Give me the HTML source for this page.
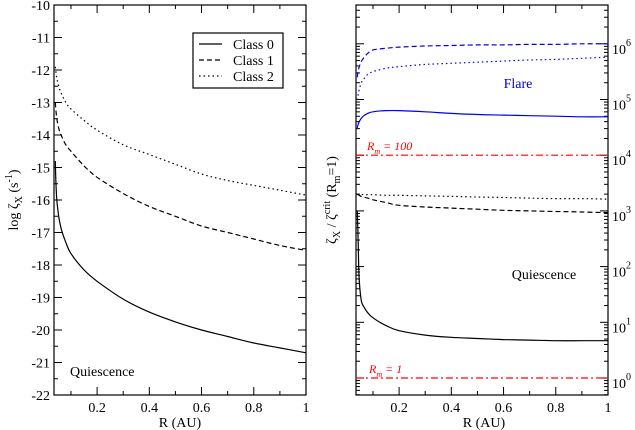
<!DOCTYPE html>
<html><head><meta charset="utf-8"><style>
body{margin:0;background:#fff}
svg{display:block;font-family:"Liberation Serif",serif}
</style></head><body>
<svg id="c" width="635" height="430"></svg>
<script>
const rVals=[0.04,0.043,0.047,0.055,0.065,0.08,0.1,0.15,0.2,0.3,0.4,0.5,0.6,0.7,0.8,0.9,1.0];
const c0Left=[-14.8,-15.6,-16.1,-16.6,-16.95,-17.3,-17.65,-18.15,-18.5,-19.05,-19.45,-19.75,-20.0,-20.2,-20.4,-20.55,-20.7];
const c1Left=[-13.0,-13.3,-13.55,-13.85,-14.05,-14.3,-14.5,-14.95,-15.3,-15.8,-16.2,-16.5,-16.8,-17.0,-17.2,-17.4,-17.55];
const c2Left=[-11.9,-12.1,-12.3,-12.55,-12.75,-13.0,-13.2,-13.55,-13.85,-14.3,-14.6,-14.9,-15.2,-15.4,-15.55,-15.7,-15.85];
const flareC0=[4.49,4.55,4.6,4.66,4.71,4.75,4.78,4.8,4.8,4.78,4.75,4.73,4.72,4.71,4.7,4.69,4.69];
const flareC1=[5.4,5.5,5.58,5.68,5.75,5.83,5.89,5.92,5.94,5.96,5.97,5.98,5.98,5.99,5.99,6.0,6.0];
const flareC2=[4.99,5.08,5.17,5.3,5.37,5.45,5.5,5.56,5.59,5.63,5.65,5.67,5.69,5.71,5.72,5.74,5.76];
const quiC0=[3.0,2.5,1.8,1.4,1.28,1.17,1.08,0.94,0.85,0.77,0.73,0.71,0.69,0.68,0.67,0.67,0.67];
const quiC1=[3.3,3.29,3.28,3.26,3.25,3.23,3.2,3.15,3.1,3.07,3.05,3.03,3.01,3.0,2.99,2.98,2.97];
const quiC2=[3.3,3.3,3.3,3.3,3.29,3.29,3.29,3.28,3.28,3.27,3.26,3.25,3.24,3.23,3.22,3.22,3.21];
const rmLevels=[4,0];
const xTicks=[0.2,0.4,0.6,0.8,1];
const leftYTicks=[-10,-11,-12,-13,-14,-15,-16,-17,-18,-19,-20,-21,-22];
const rightYTicks=[0,1,2,3,4,5,6];

const NS="http://www.w3.org/2000/svg";
const svg=document.getElementById('c');
function el(t,a,p){const e=document.createElementNS(NS,t);for(const k in a)e.setAttribute(k,a[k]);(p||svg).appendChild(e);return e;}
const XMIN=0.035,XMAX=1;
function mkX(L,R){return v=>L+(v-XMIN)/(XMAX-XMIN)*(R-L);}
const xL=mkX(54,306), xR=mkX(356,608);
const yL=v=>5+(-10-v)*32.5;
const yR=v=>378-v*55.7;
function line(xf,yf,xs,ys,style,color,name){
  const P=xs.map((x,i)=>[xf(x),yf(ys[i])]);
  let d='M'+P[0][0].toFixed(1)+','+P[0][1].toFixed(1);
  for(let i=0;i<P.length-1;i++){
    const p0=P[Math.max(0,i-1)],p1=P[i],p2=P[i+1],p3=P[Math.min(P.length-1,i+2)];
    const c1=[p1[0]+(p2[0]-p0[0])/6,p1[1]+(p2[1]-p0[1])/6];
    const c2=[p2[0]-(p3[0]-p1[0])/6,p2[1]-(p3[1]-p1[1])/6];
    d+='C'+c1.map(v=>v.toFixed(1))+' '+c2.map(v=>v.toFixed(1))+' '+p2.map(v=>v.toFixed(1));
  }
  const p=el('path',{d:d,fill:'none',stroke:color,'stroke-width':1.2});
  if(style==='dash')p.setAttribute('stroke-dasharray','5,3');
  if(style==='dot')p.setAttribute('stroke-dasharray','1.5,3');
  if(style==='dashdot')p.setAttribute('stroke-dasharray','7,3,2,3');
  
  
}
// LEFT PANEL
el('rect',{x:54,y:5,width:252,height:390,fill:'none',stroke:'#000','stroke-width':1.2,});
leftYTicks.forEach(v=>{const y=yL(v);
  el('line',{x1:54,x2:62,y1:y,y2:y,stroke:'#000'});el('line',{x1:306,x2:298,y1:y,y2:y,stroke:'#000'});
  if(v>-22){const y2=yL(v-0.5);el('line',{x1:54,x2:58,y1:y2,y2:y2,stroke:'#000'});el('line',{x1:306,x2:302,y1:y2,y2:y2,stroke:'#000'});}
  const t=el('text',{x:50,y:y+5,'text-anchor':'end','font-size':14});t.textContent=v;
  });
[0.1,0.2,0.3,0.4,0.5,0.6,0.7,0.8,0.9,1].forEach(v=>{const x=xL(v),m=Math.abs(v*5-Math.round(v*5))<1e-6?8:4;
  el('line',{x1:x,x2:x,y1:395,y2:395-m,stroke:'#000'});el('line',{x1:x,x2:x,y1:5,y2:5+m,stroke:'#000'});});
xTicks.forEach(v=>{const t=el('text',{x:xL(v),y:412,'text-anchor':'middle','font-size':14});t.textContent=v;
  });
let t=el('text',{x:180,y:427,'text-anchor':'middle','font-size':14,});t.textContent='R (AU)';
t=el('text',{transform:'translate(18,200) rotate(-90)','text-anchor':'middle','font-size':14,});
t.innerHTML='log ζ<tspan dy="4" font-size="10">X</tspan><tspan dy="-4">  (s</tspan><tspan dy="-6" font-size="10">-1</tspan><tspan dy="6">)</tspan>';
line(xL,yL,rVals,c0Left,'solid','#000','class0-line');
line(xL,yL,rVals,c1Left,'dash','#000','class1-line');
line(xL,yL,rVals,c2Left,'dot','#000','class2-line');
t=el('text',{x:70,y:376,'font-size':14,});t.textContent='Quiescence';
// legend
el('rect',{x:193,y:33,width:90,height:55,fill:'#fff',stroke:'#000','stroke-width':1.2,});
[['Class 0','','0'],['Class 1','5,3','1'],['Class 2','1.5,3','2']].forEach((l,i)=>{const y=44+i*16;
  const ln=el('line',{x1:199,x2:222,y1:y,y2:y,stroke:'#000','stroke-width':1.2});if(l[1])ln.setAttribute('stroke-dasharray',l[1]);
  const tt=el('text',{x:233,y:y+5,'font-size':14});tt.textContent=l[0];
  });
// RIGHT PANEL
el('rect',{x:356,y:5,width:252,height:390,fill:'none',stroke:'#000','stroke-width':1.2,});
for(let d=-1;d<=6;d++){for(let k=1;k<10;k++){const v=d+Math.log10(k);const y=yR(v);if(y<5||y>395)continue;const m=k===1?8:4;
  el('line',{x1:356,x2:356+m,y1:y,y2:y,stroke:'#000'});el('line',{x1:608,x2:608-m,y1:y,y2:y,stroke:'#000'});}}
rightYTicks.forEach(v=>{const y=yR(v);const tt=el('text',{x:612,y:y+10,'font-size':14});
  tt.innerHTML='10<tspan dy="-8" font-size="10">'+v+'</tspan>';
  });
[0.1,0.2,0.3,0.4,0.5,0.6,0.7,0.8,0.9,1].forEach(v=>{const x=xR(v),m=Math.abs(v*5-Math.round(v*5))<1e-6?8:4;
  el('line',{x1:x,x2:x,y1:395,y2:395-m,stroke:'#000'});el('line',{x1:x,x2:x,y1:5,y2:5+m,stroke:'#000'});});
xTicks.forEach(v=>{const tt=el('text',{x:xR(v),y:412,'text-anchor':'middle','font-size':14});tt.textContent=v;
  });
t=el('text',{x:484,y:427,'text-anchor':'middle','font-size':14,});t.textContent='R (AU)';
t=el('text',{transform:'translate(336,200) rotate(-90)','text-anchor':'middle','font-size':14,});
t.innerHTML='ζ<tspan dy="4" font-size="10">X</tspan><tspan dy="-4"> / ζ</tspan><tspan dy="-6" font-size="10">crit</tspan><tspan dy="6"> (R</tspan><tspan dy="4" font-size="10">m</tspan><tspan dy="-4">=1)</tspan>';
rmLevels.forEach(v=>{const xs=[XMIN,XMAX];line(xR,yR,xs,[v,v],'dashdot','#ff0000','rm-line-'+v);});
t=el('text',{x:367,y:150,'font-size':12,fill:'#ff0000','font-style':'italic',});t.innerHTML='R<tspan dy="4" font-size="8">m</tspan><tspan dy="-4"> = 100</tspan>';
t=el('text',{x:369,y:373,'font-size':12,fill:'#ff0000','font-style':'italic',});t.innerHTML='R<tspan dy="4" font-size="8">m</tspan><tspan dy="-4"> = 1</tspan>';
line(xR,yR,rVals,flareC0,'solid','#0000ee','flare-class0-line');
line(xR,yR,rVals,flareC1,'dash','#0000ee','flare-class1-line');
line(xR,yR,rVals,flareC2,'dot','#0000ee','flare-class2-line');
line(xR,yR,rVals,quiC0,'solid','#000','quiescence-class0-line');
line(xR,yR,rVals,quiC1,'dash','#000','quiescence-class1-line');
line(xR,yR,rVals,quiC2,'dot','#000','quiescence-class2-line');
t=el('text',{x:518,y:88,'font-size':14,fill:'#0000ee','text-anchor':'middle',});t.textContent='Flare';
t=el('text',{x:544,y:279,'font-size':14,'text-anchor':'middle',});t.textContent='Quiescence';
</script>
</body></html>
